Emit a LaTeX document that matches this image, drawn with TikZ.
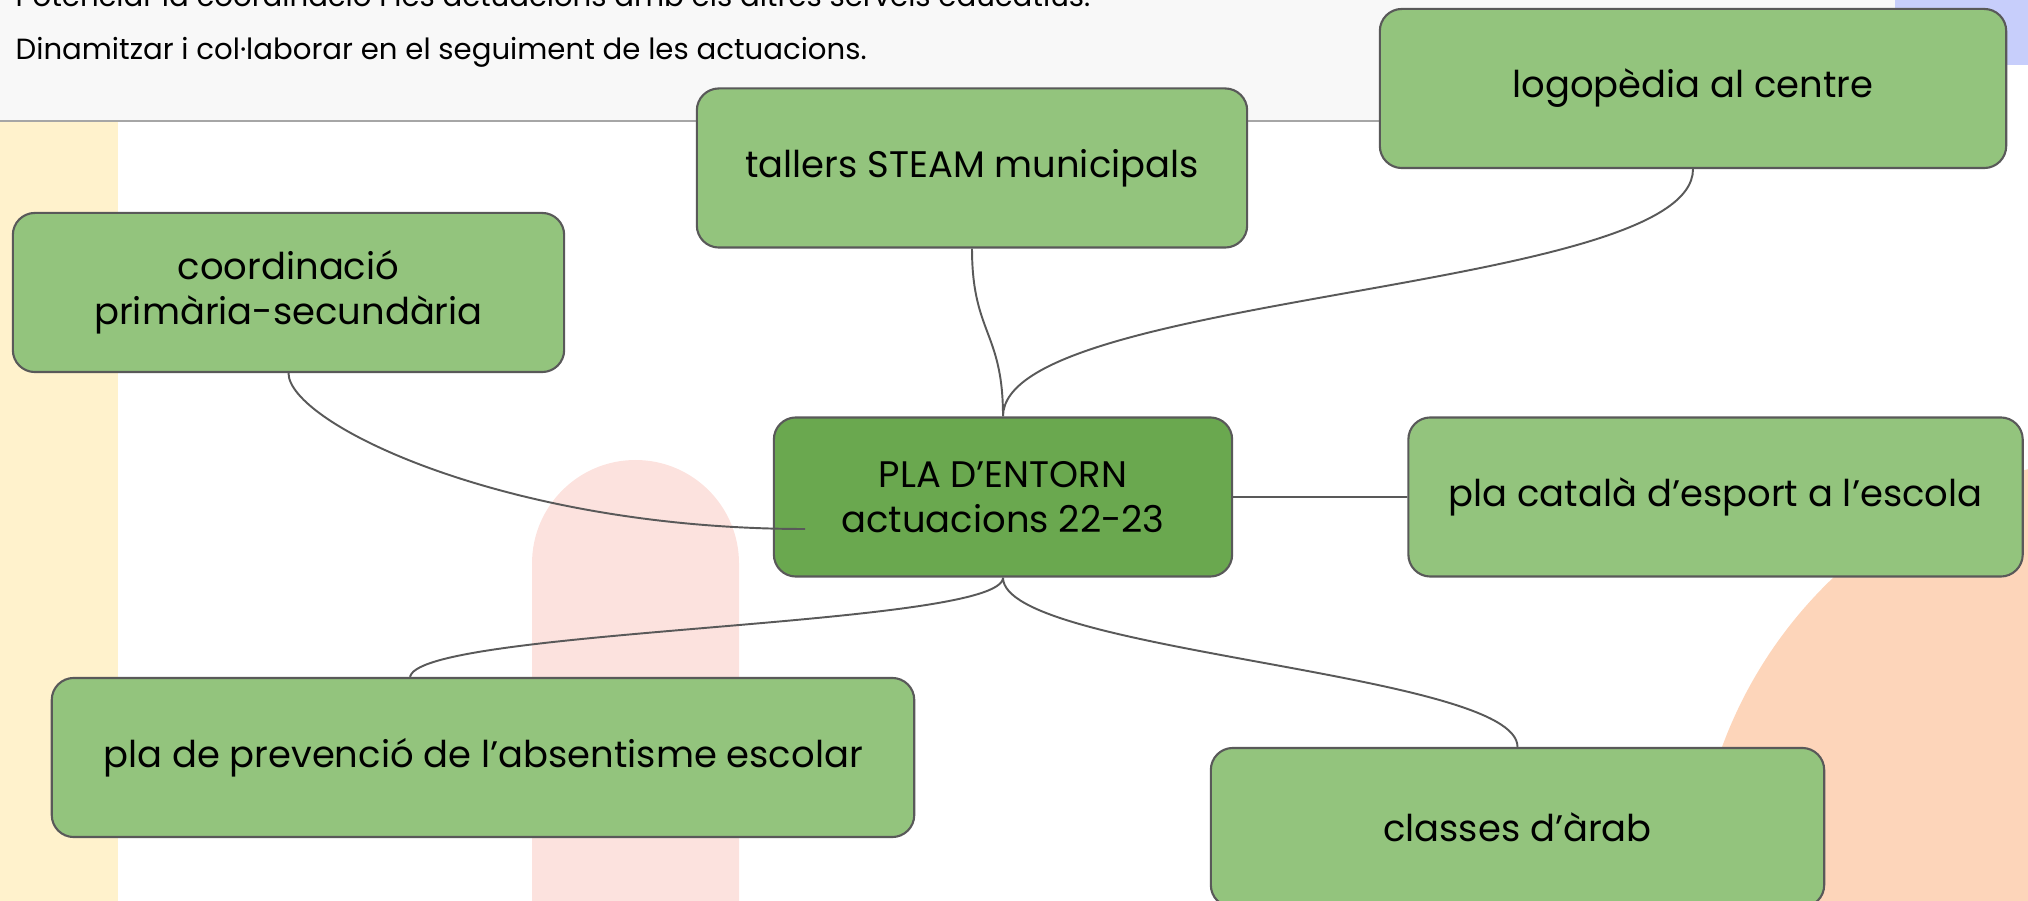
\documentclass[tikz,border=0pt]{standalone}
\usepackage{fontspec}
\setmainfont{Poppins}
\usetikzlibrary{positioning}

\definecolor{leaf}{HTML}{93C47D}
\definecolor{hubgreen}{HTML}{6AA84F}
\definecolor{edgegray}{HTML}{595959}
\definecolor{panelgray}{HTML}{F8F8F8}
\definecolor{rulegray}{HTML}{A6A6A6}
\definecolor{sand}{HTML}{FFF2CC}
\definecolor{blush}{HTML}{FCE2DE}
\definecolor{peach}{HTML}{FDD5BA}
\definecolor{periwinkle}{HTML}{C7CEFB}

\tikzset{
  box/.style={draw=edgegray, line width=0.6pt, fill=leaf, rounded corners=0.22cm,
    minimum height=1.59cm, inner sep=0pt, align=center,
    font=\fontsize{10.5pt}{12.8pt}\selectfont},
  link/.style={draw=edgegray, line width=0.55pt},
  goal/.style={anchor=base west, inner sep=0pt, font=\fontsize{8.3pt}{10pt}\selectfont}
}

\begin{document}
\begin{tikzpicture}[x=0.01cm, y=-0.01cm]
    \useasboundingbox (0,0) rectangle (2028,901);
    \clip (0,0) rectangle (2028,901);

    % backdrop
    \fill[sand] (0,121) rectangle (118,901);
    \fill[blush] (532,950) -- (532,563.5) arc (180:360:103.5) -- (739,950) -- cycle;
    \fill[peach] (2140,900) circle (445);
    \fill[periwinkle] (1895,0) rectangle (2028,65);
    \fill[panelgray] (0,0) rectangle (1895,121);
    \draw[rulegray, line width=0.5pt] (0,121) -- (1895,121);

    \node[goal] (goal1) at (15,7) {Potenciar la coordinació i les actuacions amb els altres serveis educatius.};
    \node[goal] (goal2) at (15,60) {Dinamitzar i col·laborar en el seguiment de les actuacions.};

    % mind map
    \node[box, fill=hubgreen, minimum width=4.58cm] (hub) at (1003,497) {PLA D’ENTORN\\actuacions 22-23};
    \node[box, minimum width=5.50cm] (tallers) at (972,168) {tallers STEAM municipals};
    \node[box, minimum width=6.26cm] (logo) at (1693,88.5) {logopèdia al centre};
    \node[box, minimum width=5.51cm] (coord) at (288.5,292.5) {coordinació\\primària-secundària};
    \node[box, minimum width=6.14cm, right=1.74cm of hub] (esport) {pla català d’esport a l’escola};
    \node[box, minimum width=8.62cm] (absent) at (483,757.5) {pla de prevenció de l’absentisme escolar};
    \node[box, minimum width=6.13cm] (arab) at (1517.5,827.5) {classes d’àrab};
    \coordinate (hubin) at (805,529);
    \coordinate (absentin) at (410,678);

    \draw[link]
        (hub.north) .. controls +(0,-85) and +(0,85) .. (tallers.south)
        (hub.north) .. controls +(0,-124) and +(0,124) .. (logo.south)
        (coord.south) .. controls +(0,50) and +(-300,0) .. (hubin)
        (hub.east) -- (esport.west)
        (hub.south) .. controls +(0,50) and +(0,-50) .. (absentin)
        (hub.south) .. controls +(0,75) and +(0,-75) .. (arab.north)
        ;
\end{tikzpicture}
\end{document}
